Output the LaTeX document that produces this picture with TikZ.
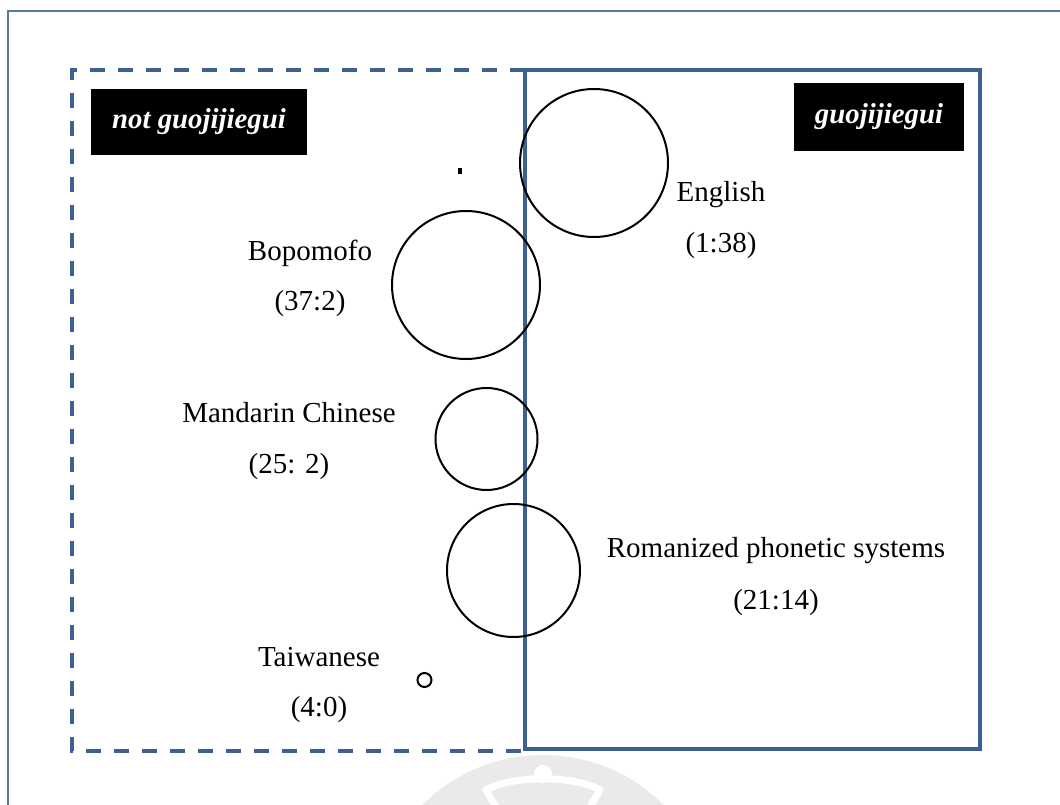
\documentclass[tikz,border=0pt]{standalone}
\usepackage{fontspec}
\setmainfont{Liberation Serif}
\definecolor{frameblue}{RGB}{60,96,145}
\definecolor{sealgray}{RGB}{234,234,234}

\begin{document}
\begin{tikzpicture}[x=1pt,y=-1pt,
  lbl/.style={font=\fontsize{29}{34}\selectfont, inner sep=0pt,
              text height=0.7em, text depth=0.22em},
  tag/.style={fill=black, text=white, inner sep=0pt,
              font=\fontsize{28.8}{34}\selectfont\bfseries\itshape},
  bubble/.style={circle, draw=black, line width=2pt, inner sep=0pt},
  zone/.style={draw=frameblue, line width=3.6pt},
]
\useasboundingbox (0,0) rectangle (1060,805);

% faint seal in the lower margin
\begin{scope}
  \clip (0,0) rectangle (1060,805);
  \fill[sealgray] (543,926) circle (171);
  \draw[white, line width=7pt, line join=round]
    (499,812) -- (486,790) .. controls (512,775) and (574,775) .. (600,790) -- (587,812);
  \fill[white] (543,774) circle (9);
\end{scope}

% page frame
\draw[frameblue!85, line width=2pt] (8,812) -- (8,11) -- (1068,11);

% the two zones
\draw[zone, dash pattern=on 15pt off 13pt] (525,70) -- (72,70) -- (72,751) -- (525,751);
\draw[zone] (525,70) rectangle (980,749);

% zone tags
\node[tag, minimum width=216pt, minimum height=66pt] (tagnot) at (199,122) {not guojijiegui};
\node[tag, minimum width=170pt, minimum height=68pt] (tagyes) at (879,117) {guojijiegui};

% bubbles
\node[bubble, minimum size=148pt] (english) at (594,163) {};
\node[bubble, minimum size=148pt] (bopomofo) at (466,285) {};
\node[bubble, minimum size=102pt] (mandarin) at (486.5,439) {};
\node[bubble, minimum size=133pt] (roman) at (513.5,570.5) {};
\node[bubble, minimum size=14pt] (taiwanese) at (424.5,680) {};
\node[fill=black, inner sep=0pt, minimum width=3.5pt, minimum height=6pt] (tiny) at (460,171) {};

% labels
\node[lbl] (englishA) at (721,199) {English};
\node[lbl] (englishB) at (721,250) {(1:38)};
\node[lbl] (bopomofoA) at (310,258) {Bopomofo};
\node[lbl] (bopomofoB) at (310,308) {(37:2)};
\node[lbl] (mandarinA) at (289,420) {Mandarin Chinese};
\node[lbl] (mandarinB) at (289,471) {(25: 2)};
\node[lbl] (romanA) at (776,555) {Romanized phonetic systems};
\node[lbl] (romanB) at (776,607) {(21:14)};
\node[lbl] (taiwaneseA) at (319,664) {Taiwanese};
\node[lbl] (taiwaneseB) at (319,714) {(4:0)};
\end{tikzpicture}
\end{document}
